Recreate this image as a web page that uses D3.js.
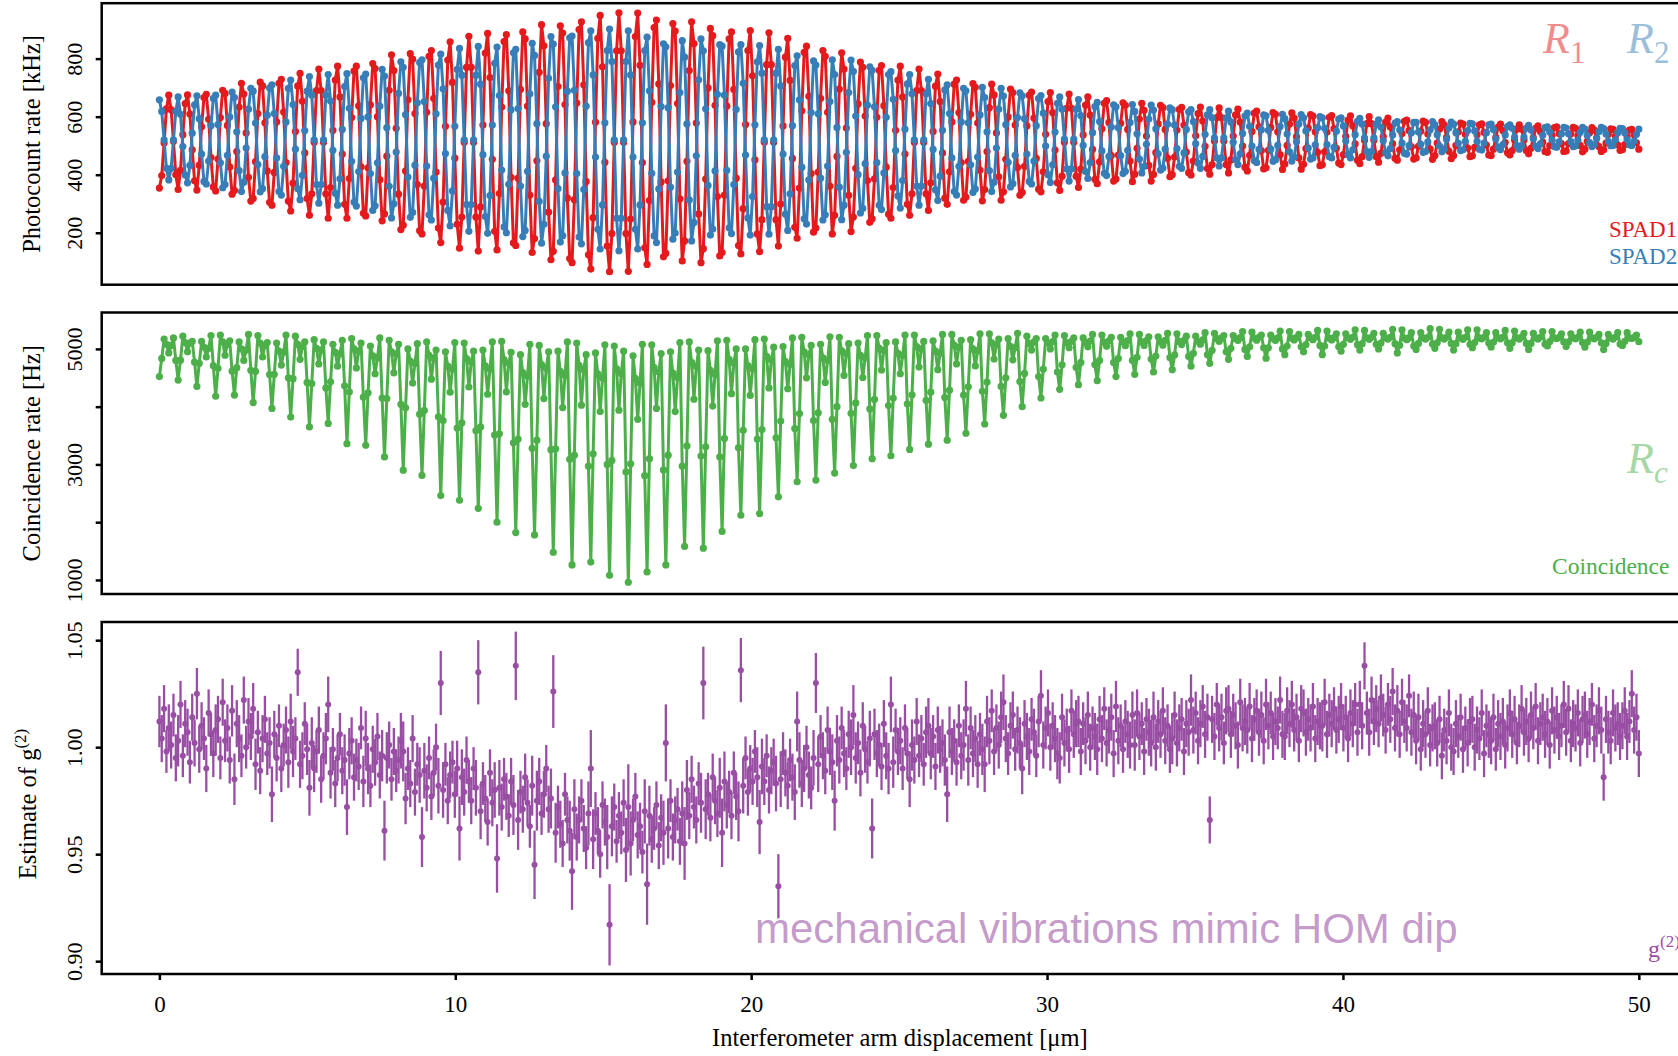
<!DOCTYPE html>
<html>
<head>
<meta charset="utf-8">
<script src="https://cdn.jsdelivr.net/npm/d3@7"></script>
<style>
  body { margin: 0; background: #fff; }
  svg { display: block; background: #fff; }
  text { font-family: "Liberation Serif", "Times New Roman", serif; }
  .axis text { font-size: 22px; fill: #000; }
  .axis line { stroke: #000; stroke-width: 2.5; }
  .x.axis text { font-size: 23px; }
</style>
</head>
<body>
<div id="chart"></div>
<script>

//Scan range of the interferometer arm [um] - samples are evenly spaced
var scanStart = 0, scanEnd = 50;

//SPAD1 photocount rate [kHz], one fringe period (8 samples) per row
var spad1Rate = [
354,397,509,627,674,624,515,400, 349,415,538,645,675,609,486,379,
347,433,565,666,677,591,459,358, 344,454,597,691,680,570,427,333,
346,480,633,715,678,544,391,309, 318,445,611,719,706,579,413,305,
295,408,582,715,729,616,442,309, 275,371,549,706,749,653,475,318,
260,334,512,690,764,690,512,334, 250,356,553,726,774,668,471,298,
250,387,597,757,774,637,427,267, 258,424,641,783,766,600,383,241,
265,464,691,813,759,560,333,211, 226,413,658,817,798,611,366,207,
196,361,615,808,828,663,409,216, 166,306,567,795,858,718,457,229,
147,254,512,770,877,770,512,254, 137,289,571,819,887,735,453,205,
141,335,633,859,883,689,391,165, 156,388,694,892,868,636,330,132,
180,448,753,917,844,576,271,107, 136,382,704,913,888,642,320,111,
97,314,647,900,927,710,377,124, 75,252,581,870,949,772,443,154,
66,197,512,827,958,827,512,197, 67,247,582,876,957,777,442,148,
91,311,649,907,933,713,375,117, 129,379,707,921,895,645,317,103,
172,446,759,927,852,578,265,97, 145,385,699,904,879,639,325,120,
132,330,636,868,892,694,388,156, 127,283,573,828,897,741,451,196,
135,245,512,779,889,779,512,245, 154,299,568,805,870,725,456,219,
181,354,620,822,843,670,404,202, 216,409,663,828,808,615,361,196,
260,463,695,820,764,561,329,204, 254,422,644,788,770,602,380,236,
248,386,598,760,776,638,426,264, 250,356,553,726,774,668,471,298,
260,334,512,690,764,690,512,334, 277,372,549,705,747,652,475,319,
298,410,582,712,726,614,442,312, 323,446,608,714,701,578,416,310,
349,480,631,712,675,544,393,312, 341,453,599,695,683,571,425,329,
339,429,568,674,685,595,456,350, 341,410,539,652,683,614,485,372,
346,395,512,629,678,629,512,395, 356,419,537,640,668,605,487,384,
369,444,558,646,655,580,466,378, 385,468,577,648,639,556,447,376,
402,491,592,646,622,533,432,378, 401,476,575,639,631,556,457,393,
400,461,554,625,632,571,478,407, 399,447,534,611,633,585,498,421,
402,435,516,597,630,597,516,435, 406,451,533,606,626,581,499,426,
413,467,549,612,619,565,483,420, 424,484,563,614,608,548,469,418,
437,501,574,613,595,531,458,419, 436,490,561,607,602,548,477,431,
434,479,547,598,604,559,491,440, 435,469,532,588,603,569,506,450,
438,462,519,576,600,576,519,462, 443,474,531,581,595,564,507,457,
450,486,542,584,588,552,496,454, 458,498,550,585,580,540,488,453,
466,509,557,583,572,529,481,455, 466,501,548,578,574,539,492,462,
465,494,538,572,575,546,502,468, 466,488,529,564,574,552,511,476,
468,483,520,557,572,557,520,483, 472,491,528,560,568,549,512,480,
477,500,535,562,565,542,507,480, 482,507,541,563,560,535,501,479,
488,515,545,562,554,527,497,480, 486,509,539,558,556,533,503,484,
486,504,532,554,556,538,510,488
];

//SPAD2 photocount rate [kHz]
var spad2Rate = [
658,618,520,422,382,422,520,618, 668,608,497,399,372,432,543,641,
672,593,471,377,368,447,569,663, 674,573,441,355,366,467,599,685,
666,548,414,342,374,492,626,698, 688,578,435,341,352,462,605,699,
710,611,458,342,330,429,582,698, 726,642,488,352,314,398,552,688,
738,674,520,366,302,366,520,674, 745,654,484,336,295,386,556,704,
748,629,446,306,292,411,594,734, 747,599,404,277,293,441,636,763,
740,562,360,251,300,478,680,789, 770,607,392,253,270,433,648,787,
796,652,430,262,244,388,610,778, 816,696,473,277,224,344,567,763,
835,743,520,297,205,297,520,743, 842,712,469,256,198,328,571,784,
840,673,416,220,200,367,624,820, 832,628,361,187,208,412,679,853,
811,576,308,164,229,464,732,876, 850,634,352,168,190,406,688,872,
878,691,404,185,162,349,636,855, 896,744,461,212,144,296,579,828,
902,790,520,250,138,250,520,790, 896,744,461,212,144,296,579,828,
874,689,405,189,166,351,635,851, 841,631,357,178,199,409,683,862,
805,575,313,172,235,465,727,868, 827,627,363,192,213,413,677,848,
843,674,415,217,197,366,625,823, 848,715,468,251,192,325,572,789,
845,750,520,290,195,290,520,750, 832,706,471,264,208,334,569,776,
810,658,426,248,230,382,614,792, 778,610,388,244,262,430,652,796,
745,563,357,245,295,477,683,795, 756,602,400,268,284,438,640,772,
760,634,442,295,280,406,598,745, 755,660,483,327,285,380,557,713,
745,679,520,361,295,361,520,679, 729,645,487,348,311,395,553,692,
710,611,458,342,330,429,582,698, 689,579,434,339,351,461,606,701,
666,548,414,342,374,492,626,698, 671,573,443,358,369,467,597,682,
672,593,471,377,368,447,569,663, 673,612,499,400,373,434,547,646,
668,626,523,420,378,420,523,626, 659,604,501,411,387,442,545,635,
649,583,482,405,397,463,564,641, 634,562,466,404,412,484,580,642,
618,541,454,406,428,505,592,640, 623,558,472,416,423,488,574,630,
624,571,490,429,422,475,556,617, 624,583,507,440,422,463,539,606,
624,596,527,458,430,458,527,596, 619,582,512,452,435,472,542,602,
612,567,499,448,442,487,555,606, 603,553,488,446,451,501,566,608,
593,540,479,447,461,514,575,607, 596,551,492,454,458,503,562,600,
596,560,504,462,458,494,550,592, 596,568,516,470,458,486,538,584,
594,574,527,480,460,480,527,574, 589,564,517,476,465,490,537,578,
583,554,509,474,471,500,545,580, 580,547,505,477,480,513,555,583,
572,538,499,479,488,522,561,581, 574,545,508,483,486,515,552,577,
575,551,515,488,485,509,545,572, 574,556,523,494,486,504,537,566,
572,560,530,500,488,500,530,560, 570,554,524,498,490,506,536,562,
565,547,519,497,495,513,541,563, 561,541,514,497,499,519,546,563,
557,535,511,497,503,525,549,563, 559,540,515,500,501,520,545,560,
559,544,521,503,501,516,539,557
];

//Coincidence rate [Hz]
var coincRate = [
4520,4835,5170,5080,4930,5060,5190,4800, 4460,4805,5220,5110,4950,5100,5130,4770,
4350,4750,5130,5030,4860,5010,5230,4710, 4180,4665,5240,5120,4890,5080,5140,4615,
4200,4675,5120,5000,4800,4980,5250,4630, 4070,4610,5230,5100,4860,5060,5110,4555,
3970,4560,5100,4960,4720,4940,5240,4500, 3820,4485,5220,5080,4820,5040,5120,4420,
3650,4400,5160,5010,4740,4980,5120,4325, 3710,4430,5080,4940,4700,4915,5150,4360,
3360,4255,5180,5000,4670,4960,5100,4165, 3330,4240,5050,4880,4570,4845,5190,4150,
3130,4140,5150,4950,4585,4910,5080,4040, 2900,3980,5000,4790,4410,4750,5090,3870,
2810,3935,5120,4890,4475,4840,4980,3825, 2460,3760,4950,4700,4250,4650,5110,3630,
2380,3720,5100,4830,4340,4775,4960,3585, 2240,3650,4980,4705,4215,4650,5120,3510,
2000,3530,5130,4815,4255,4755,4940,3375, 1820,3440,4900,4590,4040,4530,5080,3280,
1780,3420,5060,4730,4140,4665,4950,3255, 1480,3270,4960,4610,3985,4540,5120,3090,
1260,3160,5100,4715,4025,4640,4900,2970, 1310,3185,4930,4570,3915,4495,5070,3000,
1080,3070,5050,4655,3940,4575,4960,2870, 960,3010,4880,4490,3780,4410,5080,2805,
1140,3100,5070,4675,3970,4600,4920,2905, 1260,3160,4950,4580,3915,4505,5110,2970,
1580,3320,5120,4765,4130,4695,4980,3145, 1550,3305,4970,4630,4010,4560,5140,3130,
1840,3450,5150,4820,4225,4755,5000,3290, 2120,3590,5000,4710,4195,4655,5160,3440,
2150,3605,5170,4870,4325,4810,5030,3460, 2440,3750,5040,4780,4310,4730,5190,3620,
2700,3880,5200,4950,4500,4900,5060,3760, 2730,3895,5080,4845,4420,4800,5210,3780,
2850,4000,5200,4965,4540,4920,5090,3885, 2980,4065,5100,4890,4505,4845,5230,3960,
3100,4125,5230,5015,4635,4975,5110,4020, 3150,4150,5120,4925,4570,4885,5240,4050,
3260,4205,5240,5040,4685,5000,5130,4110, 3350,4250,5140,4960,4640,4925,5250,4160,
3420,4285,5250,5065,4740,5030,5150,4200, 3540,4345,5160,5000,4705,4965,5260,4265,
3700,4425,5260,5105,4825,5075,5170,4350, 3850,4500,5180,5045,4810,5020,5270,4435,
4000,4575,5220,5090,4980,5120,5180,4520, 4150,4650,5180,5100,5000,5125,5240,4600,
4300,4725,5230,5105,5020,5130,5190,4680, 4380,4765,5190,5110,5035,5135,5250,4730,
4450,4800,5240,5115,5045,5140,5200,4765, 4520,4835,5200,5120,5055,5145,5260,4800,
4560,4855,5250,5120,5060,5145,5210,4825, 4600,4875,5210,5125,5065,5150,5270,4850,
4640,4895,5260,5125,5075,5150,5220,4870, 4700,4925,5220,5130,5080,5155,5280,4900,
4750,4975,5270,5180,5130,5190,5230,4950, 4820,5010,5230,5180,5145,5195,5300,4990,
4870,5035,5290,5185,5150,5200,5240,5020, 4840,5020,5240,5180,5145,5190,5310,5000,
4900,5050,5300,5185,5155,5195,5250,5035, 4950,5075,5250,5190,5160,5200,5320,5060,
4900,5050,5310,5185,5155,5195,5260,5035, 4960,5080,5260,5190,5165,5200,5330,5070,
4980,5090,5320,5190,5165,5200,5270,5080, 5000,5100,5270,5190,5170,5200,5340,5090,
4930,5065,5330,5185,5160,5195,5280,5050, 4990,5095,5280,5190,5170,5200,5350,5085,
5010,5105,5340,5190,5170,5200,5290,5095, 4980,5090,5290,5190,5165,5200,5330,5080,
5020,5110,5330,5190,5175,5200,5280,5100, 5030,5115,5280,5190,5175,5200,5320,5105,
5010,5105,5310,5190,5170,5200,5270,5095, 4990,5095,5270,5190,5170,5200,5300,5085,
5050,5125,5300,5190,5180,5200,5260,5120, 5040,5120,5260,5190,5175,5200,5290,5110,
5030,5115,5290,5190,5175,5200,5250,5105, 4990,5095,5250,5190,5170,5200,5280,5085,
5060,5130,5280,5190,5180,5200,5240,5125
];

//Estimate of g(2)
var g2Estimate = [
1.012,1.004,1.018,0.998,1.009,1.001,1.015,0.995, 1.003,1.020,0.996,1.011,1.007,0.993,1.014,1.002,
1.025,0.999,1.010,1.004,0.990,1.016,1.006,0.997, 1.008,1.013,0.995,1.021,1.003,1.009,0.994,1.017,
0.985,1.011,1.004,0.996,1.022,1.000,1.012,1.005, 1.018,0.992,1.007,0.989,1.004,1.013,0.997,1.002,
0.978,1.006,0.995,1.010,0.990,1.001,1.008,0.993, 1.012,0.998,1.004,1.035,0.992,0.996,1.011,0.999,
0.981,1.002,0.990,0.998,1.008,0.985,0.996,1.004, 1.020,0.988,0.999,0.983,0.995,1.006,0.989,0.994,
0.972,0.997,1.003,0.986,0.994,0.991,1.009,0.984, 1.004,0.990,0.982,0.999,0.993,1.005,0.987,0.996,
0.961,0.995,1.001,0.985,0.998,0.989,0.994,1.003, 0.998,0.976,0.990,0.983,1.004,0.979,0.992,0.987,
0.958,0.989,0.981,0.995,0.977,0.988,1.000,0.982, 1.030,0.980,0.992,0.975,0.987,0.993,0.978,0.990,
0.962,0.986,0.979,0.994,0.984,0.975,0.990,0.981, 1.035,0.970,0.983,0.976,0.965,0.988,0.974,0.980,
0.948,0.981,0.972,0.985,0.977,0.968,0.984,0.973, 1.038,0.966,0.979,0.971,0.986,0.974,0.963,0.982,
0.945,0.975,0.984,0.969,0.978,0.990,0.971,0.976, 1.026,0.960,0.972,0.964,0.955,0.978,0.966,0.961,
0.942,0.971,0.958,0.966,0.975,0.962,0.953,0.969, 0.990,0.957,0.969,0.961,0.950,0.973,0.965,0.958,
0.917,0.963,0.972,0.956,0.968,0.960,0.974,0.952, 0.972,0.955,0.966,0.977,0.959,0.963,0.951,0.970,
0.936,0.968,0.957,0.962,0.973,0.954,0.967,0.960, 1.002,0.962,0.975,0.958,0.966,0.971,0.956,0.969,
0.955,0.980,0.968,0.985,0.972,0.966,0.983,0.974, 1.030,0.971,0.978,0.967,0.986,0.975,0.969,0.981,
0.960,0.984,0.973,0.979,0.968,0.988,0.977,0.970, 1.036,0.982,0.995,0.979,0.990,0.984,0.998,0.986,
0.965,0.991,0.984,0.996,0.980,0.989,0.993,0.983, 0.935,0.985,0.997,0.988,0.982,0.994,0.986,0.979,
1.012,0.994,0.983,0.990,1.000,0.987,0.981,0.995, 1.030,0.992,1.005,0.996,0.989,1.008,0.998,0.993,
0.975,1.003,0.994,1.009,0.997,0.990,1.006,1.000, 1.015,0.995,1.002,0.988,1.010,0.999,0.993,1.004,
0.962,1.006,0.997,1.001,0.991,1.011,0.996,0.990, 1.020,0.993,1.008,0.998,1.003,0.990,1.009,0.997,
0.985,1.001,0.994,1.012,0.996,1.004,0.992,1.007, 1.010,0.997,1.005,0.991,1.008,0.999,1.002,0.994,
0.978,1.007,0.998,1.003,0.993,1.010,0.996,1.001, 1.018,0.994,1.009,0.997,1.004,0.992,1.006,0.999,
0.992,1.012,1.003,1.017,0.998,1.009,1.001,1.014, 1.021,1.004,0.997,1.010,1.015,0.999,1.008,1.002,
0.990,1.011,1.005,0.998,1.013,1.007,0.996,1.012, 1.024,1.001,1.009,1.016,1.000,1.010,1.004,0.997,
0.995,1.014,1.002,1.008,0.999,1.017,1.006,1.011, 1.012,0.998,1.011,1.003,1.015,1.000,1.009,1.005,
0.999,1.013,1.004,1.018,1.002,1.008,1.014,0.997, 1.019,1.003,1.010,0.999,1.012,1.006,1.001,1.015,
1.001,1.016,1.005,1.011,0.998,1.013,1.007,1.002, 1.014,1.000,1.012,1.006,1.017,1.003,1.010,0.999,
1.004,1.015,1.002,1.009,1.013,0.998,1.011,1.007, 1.022,1.008,1.016,1.003,1.011,1.019,1.006,1.014,
0.966,1.013,1.005,1.020,1.009,1.014,1.002,1.017, 1.018,1.006,1.015,1.010,1.001,1.021,1.009,1.012,
1.008,1.019,1.004,1.013,1.017,1.007,1.015,1.003, 1.020,1.010,1.016,1.005,1.012,1.009,1.022,1.006,
1.005,1.017,1.011,1.020,1.008,1.014,1.003,1.018, 1.016,1.007,1.013,1.009,1.019,1.004,1.012,1.010,
1.010,1.021,1.006,1.015,1.011,1.018,1.008,1.013, 1.019,1.009,1.014,1.004,1.016,1.011,1.020,1.007,
1.020,1.010,1.038,1.016,1.007,1.022,1.012,1.018, 1.011,1.023,1.015,1.008,1.020,1.013,1.026,1.009,
1.017,1.006,1.021,1.012,1.009,1.024,1.007,1.015, 1.003,1.014,0.999,1.011,1.006,1.017,1.001,1.009,
1.010,1.002,1.013,0.996,1.008,1.003,1.016,1.000, 0.998,1.011,1.005,1.014,0.999,1.009,1.002,1.012,
1.013,1.000,1.008,1.004,1.016,0.997,1.010,1.006, 1.003,1.014,0.999,1.011,1.005,1.012,1.001,1.009,
1.016,1.006,1.013,1.002,1.010,1.018,1.007,1.012, 1.004,1.015,1.009,1.019,1.003,1.011,1.014,1.006,
1.012,1.001,1.017,1.008,1.014,1.005,1.010,1.020, 1.007,1.018,1.003,1.011,1.009,1.016,1.002,1.013,
1.015,1.006,1.012,1.020,1.004,1.010,1.017,1.008, 0.986,1.013,1.007,1.003,1.016,1.009,1.011,1.005,
1.010,1.017,1.005,1.012,1.025,1.008,1.014,0.997
];

//Standard error of g(2), in units of 0.001
var g2ErrorMilli = [
12,11,11,10,11,11,10,11, 12,11,10,11,11,10,11,11, 12,11,11,10,11,11,10,11, 12,11,10,11,10,11,11,12,
12,11,11,10,11,10,11,11, 12,12,10,11,11,11,10,12, 13,11,11,10,11,10,11,12, 13,12,10,11,11,11,10,12,
13,12,11,10,11,11,11,12, 13,12,10,11,11,10,11,12, 13,12,11,11,10,11,10,12, 13,12,10,11,11,11,11,12,
14,12,11,10,11,10,11,13, 14,12,10,11,11,11,10,13, 14,13,11,10,11,11,11,13, 15,13,10,11,11,10,11,13,
15,13,11,11,10,11,10,13, 15,13,10,11,11,11,11,13, 16,13,11,10,11,10,11,14, 16,14,10,11,11,11,10,14,
16,14,11,10,11,11,11,14, 17,14,10,11,11,10,11,14, 18,14,11,11,10,11,10,15, 18,14,10,11,11,11,11,15,
19,14,11,10,11,10,11,15, 20,15,10,11,11,11,10,15, 19,14,11,10,11,11,11,15, 18,14,10,11,11,10,11,15,
17,14,11,11,10,11,10,14, 17,14,10,11,11,11,11,14, 16,14,11,10,11,10,11,14, 15,13,10,11,11,11,10,14,
15,13,11,10,11,11,11,13, 15,13,10,11,11,10,11,13, 14,13,11,11,10,11,10,13, 14,13,10,11,11,11,11,13,
14,12,11,10,11,10,11,13, 14,12,10,11,11,11,10,13, 14,12,11,10,11,11,11,12, 13,12,10,11,11,10,11,12,
13,12,11,11,10,11,10,12, 13,12,10,11,11,11,11,12, 13,12,11,10,11,10,11,12, 13,12,10,11,11,11,10,12,
13,12,11,10,11,11,11,12, 13,11,10,11,11,10,11,12, 12,11,11,11,10,11,10,12, 12,11,10,11,11,11,11,12,
12,11,11,10,11,10,11,11, 12,11,10,11,11,11,10,11, 12,11,11,10,11,11,11,11, 12,11,10,11,10,11,11,11,
12,11,11,10,11,10,11,11, 12,11,10,11,11,11,10,11, 12,11,11,11,10,11,11,11, 12,11,10,11,11,10,11,11,
11,11,11,10,11,11,10,11, 11,11,10,11,11,11,11,11, 11,11,11,10,10,11,11,11, 12,11,10,11,11,10,11,11,
11,11,11,11,10,11,10,11, 11,11,10,11,11,11,11,11, 12,11,11,10,11,10,11,11, 11,11,10,11,11,11,10,11,
11,11,11,10,11,11,11,11, 11,11,10,11,10,11,11,11, 12,11,11,10,11,10,11,11, 11,11,10,11,11,11,10,11,
11,11,11,11,10,11,11,11, 11,11,10,11,11,10,11,11, 11,11,11,10,11,11,10,11, 11,11,10,11,11,11,11,11,
11,11,11,10,10,11,11,11, 11,11,10,11,11,10,11,11, 11,11,11,11,10,11,10,11, 11,11,10,11,11,11,11,11,
11,11,11,10,11,10,11,11, 11,11,10,11,11,11,10,11, 11,11,11,10,11,11,11,11
];

//Axis ticks and labels
var photocountTicks = [200, 400, 600, 800];
var coincTicks = [1000, 2000, 3000, 4000, 5000];
var coincLabels = [1000, 3000, 5000];
var g2Ticks = [0.90, 0.95, 1.00, 1.05];
var displacementTicks = [0, 10, 20, 30, 40, 50];

//Colours (Set1)
var red = "#E41A1C", blue = "#377EB8", green = "#4DAF4A", purple = "#984EA3";

//Page and panel geometry - the plot box runs past the right edge of the picture
var width = 1678, height = 1056;
var plotLeft = 101.7, plotRight = 1698;
var ratePanel = {top: 3.2, bottom: 284.7};
var coincPanel = {top: 312.5, bottom: 594};
var g2Panel = {top: 622, bottom: 974};

//Scan positions for every sample
var displacement = spad1Rate.map(function(d, i) {
  return scanStart + i * (scanEnd - scanStart) / (spad1Rate.length - 1);
});

var svg = d3.select("#chart").append("svg")
    .attr("width", width)
    .attr("height", height);

//Scales
var x = d3.scaleLinear().domain([-1.95, 52]).range([plotLeft, plotRight]);
var yRate = d3.scaleLinear().domain([21, 991]).range([ratePanel.bottom, ratePanel.top]);
var yCoinc = d3.scaleLinear().domain([757, 5630]).range([coincPanel.bottom, coincPanel.top]);
var yG2 = d3.scaleLinear().domain([0.894, 1.0585]).range([g2Panel.bottom, g2Panel.top]);

//Draws a line with a dot on every sample
function drawSeries(values, y, color, radius) {
  var lineGen = d3.line()
      .x(function(d, i) { return x(displacement[i]); })
      .y(function(d) { return y(d); });

  var g = svg.append("g");
  g.append("path")
      .datum(values)
      .attr("fill", "none")
      .attr("stroke", color)
      .attr("stroke-width", 3)
      .attr("stroke-linejoin", "round")
      .attr("d", lineGen);

  g.selectAll("circle")
    .data(values)
    .enter().append("circle")
      .attr("cx", function(d, i) { return x(displacement[i]); })
      .attr("cy", function(d) { return y(d); })
      .attr("r", radius)
      .attr("fill", color);
}

//Draws y axis with labels parallel to the axis
function drawYAxis(y, ticks, labels, fmt) {
  var axis = svg.append("g")
      .attr("class", "y axis")
      .attr("transform", "translate(" + plotLeft + ",0)")
      .call(d3.axisLeft(y)
        .tickValues(ticks)
        .tickSize(6)
        .tickFormat(function(d) { return labels.indexOf(d) >= 0 ? fmt(d) : ""; }));

  axis.select(".domain").remove();
  axis.selectAll("text")
      .attr("x", 0)
      .attr("y", 0)
      .attr("dy", 0)
      .attr("text-anchor", "middle")
      .attr("transform", "translate(-19.5,0) rotate(-90)");
}

//Draws rotated y title centred on a panel
function drawYTitle(label, panel, xPos, shift) {
  return svg.append("text")
      .attr("text-anchor", "middle")
      .attr("transform", "translate(" + xPos + "," + ((panel.top + panel.bottom) / 2 + shift) + ") rotate(-90)")
      .style("font-size", "24.5px")
      .style("fill", "#000")
      .text(label);
}

//Draws panel frame
function drawBox(panel) {
  svg.append("rect")
      .attr("x", plotLeft)
      .attr("y", panel.top)
      .attr("width", plotRight - plotLeft)
      .attr("height", panel.bottom - panel.top)
      .attr("fill", "none")
      .attr("stroke", "#000")
      .attr("stroke-width", 2.5);
}

//Draws an italic symbol with a subscript (R1, R2, Rc)
function drawSymbol(xPos, yPos, color, sub, subItalic) {
  var t = svg.append("text")
      .attr("x", xPos)
      .attr("y", yPos)
      .style("fill", color)
      .style("fill-opacity", 0.5);
  t.append("tspan").style("font-size", "44px").style("font-style", "italic").text("R");
  t.append("tspan").attr("dy", 10).style("font-size", "31px")
      .style("font-style", subItalic ? "italic" : "normal").text(sub);
}

////
// Panel 1: photocount rates
////
drawSeries(spad1Rate, yRate, red, 3.6);
drawSeries(spad2Rate, yRate, blue, 3.6);
drawYAxis(yRate, photocountTicks, photocountTicks, d3.format("d"));
drawYTitle("Photocount rate [kHz]", ratePanel, 39.5, 0);
drawBox(ratePanel);

drawSymbol(1543, 53, red, "1", false);
drawSymbol(1627, 53, blue, "2", false);

svg.append("text").attr("x", 1609).attr("y", 237).style("fill", red).style("font-size", "23px").text("SPAD1");
svg.append("text").attr("x", 1609).attr("y", 264).style("fill", blue).style("font-size", "23px").text("SPAD2");

////
// Panel 2: coincidence rate
////
drawSeries(coincRate, yCoinc, green, 3.6);
drawYAxis(yCoinc, coincTicks, coincLabels, d3.format("d"));
drawYTitle("Coincidence rate [Hz]", coincPanel, 39.5, 0);
drawBox(coincPanel);

drawSymbol(1627, 473, green, "c", true);
svg.append("text").attr("x", 1552).attr("y", 574).style("fill", green).style("font-size", "23.5px").text("Coincidence");

////
// Panel 3: g(2) estimate with error bars
////
var g2Group = svg.append("g");
g2Group.selectAll("line")
  .data(g2Estimate)
  .enter().append("line")
    .attr("x1", function(d, i) { return x(displacement[i]); })
    .attr("x2", function(d, i) { return x(displacement[i]); })
    .attr("y1", function(d, i) { return yG2(d - g2ErrorMilli[i] / 1000); })
    .attr("y2", function(d, i) { return yG2(d + g2ErrorMilli[i] / 1000); })
    .attr("stroke", purple)
    .attr("stroke-width", 2.3);

g2Group.selectAll("circle")
  .data(g2Estimate)
  .enter().append("circle")
    .attr("cx", function(d, i) { return x(displacement[i]); })
    .attr("cy", function(d) { return yG2(d); })
    .attr("r", 3)
    .attr("fill", purple);

drawYAxis(yG2, g2Ticks, g2Ticks, d3.format(".2f"));
var g2Title = drawYTitle("Estimate of g", g2Panel, 36, 6);
g2Title.append("tspan").attr("dy", -10).style("font-size", "17px").text("(2)");
drawBox(g2Panel);

svg.append("text")
    .attr("x", 755)
    .attr("y", 943)
    .style("fill", purple)
    .style("fill-opacity", 0.58)
    .style("font-family", "'Liberation Sans', Arial, sans-serif")
    .style("font-size", "42px")
    .text("mechanical vibrations mimic HOM dip");

var g2Label = svg.append("text").attr("x", 1648).attr("y", 957).style("fill", purple).style("font-size", "24px");
g2Label.append("tspan").text("g");
g2Label.append("tspan").attr("dy", -10).style("font-size", "17px").text("(2)");

//Draw x axis
var xAxis = svg.append("g")
    .attr("class", "x axis")
    .attr("transform", "translate(0," + g2Panel.bottom + ")")
    .call(d3.axisBottom(x)
      .tickValues(displacementTicks)
      .tickSize(6)
      .tickPadding(15.5));
xAxis.select(".domain").remove();

svg.append("text")
    .attr("x", (plotLeft + plotRight) / 2)
    .attr("y", 1046)
    .attr("text-anchor", "middle")
    .style("font-size", "24.5px")
    .style("fill", "#000")
    .text("Interferometer arm displacement [\u03bcm]");

</script>
</body>
</html>
